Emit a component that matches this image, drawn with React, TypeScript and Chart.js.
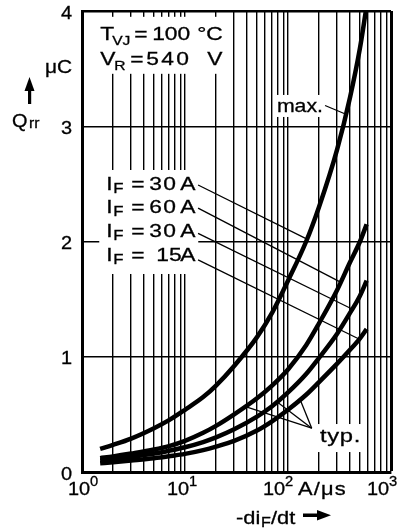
import React, { useEffect, useRef } from "react";
import { Chart, registerables } from "chart.js";
Chart.register(...registerables);

// ---- data ----
const DIDT_MAX = [1.5, 2, 3, 5, 7, 10, 15, 20, 30, 50, 70, 100, 150, 200, 300, 400, 500, 570];
const QRR_MAX = [0.2, 0.235, 0.29, 0.38, 0.45, 0.54, 0.65, 0.75, 0.92, 1.17, 1.38, 1.66, 2.0, 2.3, 2.8, 3.25, 3.68, 4.0];

const DIDT_TYP = [1.5, 2, 3, 5, 7, 10, 15, 20, 30, 50, 70, 100, 150, 200, 300, 400, 500, 580];
const QRR_IF60 = [0.12, 0.135, 0.16, 0.195, 0.225, 0.27, 0.34, 0.4, 0.5, 0.64, 0.75, 0.89, 1.1, 1.29, 1.58, 1.82, 2.0, 2.15];
const QRR_IF30 = [0.1, 0.11, 0.13, 0.16, 0.185, 0.215, 0.26, 0.3, 0.37, 0.48, 0.57, 0.69, 0.85, 0.99, 1.2, 1.38, 1.53, 1.66];
const QRR_IF15 = [0.075, 0.085, 0.1, 0.12, 0.137, 0.157, 0.19, 0.22, 0.27, 0.36, 0.44, 0.54, 0.67, 0.78, 0.94, 1.06, 1.16, 1.24];

// leader lines: [x0, y0, x1, y1] in data units
const LEADERS_IF = [
  [13.4, 2.49, 153, 2.02],
  [13.4, 2.29, 320, 1.65],
  [13.4, 2.07, 428, 1.41],
  [13.4, 1.84, 500, 1.15],
];
const LEADER_MAX = [229, 3.18, 375, 3.1];
const LEADERS_TYP = [
  [170, 0.38, 131, 0.63],
  [170, 0.38, 78, 0.61],
  [170, 0.38, 38, 0.57],
];

const X_GRID = [1, 2, 3, 4, 5, 6, 7, 8, 9, 10, 20, 30, 40, 50, 60, 70, 80, 90, 100, 200, 300, 400, 500, 600, 700, 800, 900, 1000];
const X_LABEL_VALUES = [1, 10, 100, 1000];
const X_LABEL_EXP = ["0", "1", "2", "3"];
const Y_GRID = [0, 1, 2, 3, 4];
const Y_LABELS = ["0", "1", "2", "3", "4"];

const IF_LABELS = ["30", "60", "30", "15"];

const FONT = "'Liberation Sans', Arial, Helvetica, sans-serif";

type Seg = { t: string; dx: number; dy?: number; size?: number; ls?: number };

function drawSegs(ctx: CanvasRenderingContext2D, x: number, y: number, segs: Seg[], hs = 1.2, base = 19) {
  for (const s of segs) {
    ctx.save();
    ctx.translate(x + s.dx, y + (s.dy || 0));
    ctx.scale(hs, 1);
    ctx.font = `${s.size || base}px ${FONT}`;
    (ctx as any).letterSpacing = `${s.ls || 0}px`;
    ctx.fillStyle = "#000";
    ctx.strokeStyle = "#000";
    ctx.lineWidth = 0.3;
    ctx.fillText(s.t, 0, 0);
    ctx.strokeText(s.t, 0, 0);
    ctx.restore();
  }
}

const textPlugin = {
  id: "textPlugin",
  beforeDraw(chart: any) {
    const ctx = chart.ctx;
    ctx.save();
    ctx.fillStyle = "#fff";
    ctx.fillRect(0, 0, chart.width, chart.height);
    ctx.restore();
  },
  beforeDatasetsDraw(chart: any) {
    const ctx: CanvasRenderingContext2D = chart.ctx;
    const sx = chart.scales.x;
    const sy = chart.scales.y;
    const P = (x: number, y: number) => [sx.getPixelForValue(x), sy.getPixelForValue(y)];
    ctx.save();
    ctx.textAlign = "left";
    ctx.textBaseline = "alphabetic";

    // conditions block
    const [tx, ty] = P(1.5, 3.75);
    ctx.fillStyle = "#fff";
    ctx.fillRect(tx - 4, ty - 23, 130, 57);
    drawSegs(ctx, tx, ty, [
      { t: "T", dx: 0 },
      { t: "VJ", dx: 12, dy: 5, size: 13 },
      { t: "=", dx: 34 },
      { t: "100", dx: 52 },
      { t: "°C", dx: 97 },
    ]);
    const [vx, vy] = P(1.5, 3.53);
    drawSegs(ctx, vx, vy, [
      { t: "V", dx: 0 },
      { t: "R", dx: 14, dy: 5, size: 13 },
      { t: "=", dx: 30 },
      { t: "540", dx: 46, ls: 2 },
      { t: "V", dx: 107 },
    ]);

    // IF labels
    const ifY = [2.447, 2.247, 2.039, 1.831];
    const [ix0, iy0] = P(1.72, ifY[0]);
    ctx.fillStyle = "#fff";
    ctx.fillRect(ix0 - 7, iy0 - 20, 99, 104);
    IF_LABELS.forEach((lab, i) => {
      const [ix, iy] = P(1.72, ifY[i]);
      const narrow = lab === "15";
      drawSegs(ctx, ix, iy, [
        { t: "I", dx: 0 },
        { t: "F", dx: 7, dy: 3, size: 14 },
        { t: "=", dx: 25 },
        { t: lab, dx: narrow ? 50 : 43, ls: narrow ? 0 : 1 },
        { t: "A", dx: 74 },
      ]);
    });

    // max.
    const [mx, my] = P(78, 3.124);
    ctx.fillStyle = "#fff";
    ctx.fillRect(mx - 3, my - 17, 53, 22);
    drawSegs(ctx, mx, my, [{ t: "max.", dx: 0 }], 1.12);

    // typ.
    const [px, py] = P(205, 0.26);
    ctx.fillStyle = "#fff";
    ctx.fillRect(px - 3, py - 18, 46, 28);
    drawSegs(ctx, px, py, [{ t: "typ.", dx: 0, ls: 0.5 }], 1.25);
    ctx.restore();
  },
  afterDraw(chart: any) {
    const ctx: CanvasRenderingContext2D = chart.ctx;
    const sx = chart.scales.x;
    const sy = chart.scales.y;
    const area = chart.chartArea;
    ctx.save();
    ctx.fillStyle = "#000";
    ctx.strokeStyle = "#000";
    ctx.textAlign = "left";
    ctx.textBaseline = "alphabetic";

    // y tick labels
    Y_GRID.forEach((v, i) => {
      const y = sy.getPixelForValue(v);
      drawSegs(ctx, area.left - 21, y + 7.5, [{ t: Y_LABELS[i], dx: 0 }], 1.05);
    });

    // x tick labels
    const shifts = [-14, -18, -25, -24];
    const baseY = area.bottom + 23;
    X_LABEL_VALUES.forEach((v, i) => {
      const p = sx.getPixelForValue(v) + shifts[i];
      drawSegs(ctx, p, baseY, [
        { t: "10", dx: 0 },
        { t: X_LABEL_EXP[i], dx: 22, dy: -9, size: 14 },
      ], 1.05);
    });
    const p2 = sx.getPixelForValue(100);
    drawSegs(ctx, p2 + 10, baseY, [{ t: "A/μs", dx: 0, ls: 1 }], 1.15);

    // x axis title
    const tY = area.bottom + 52;
    const tx = p2 - 52;
    drawSegs(ctx, tx, tY, [
      { t: "-di", dx: 0 },
      { t: "F", dx: 25, dy: 3, size: 14 },
      { t: "/dt", dx: 35 },
    ], 1.15);
    // arrow right
    const ay = tY - 9;
    ctx.fillRect(tx + 67, ay - 1.5, 16, 3.5);
    ctx.beginPath();
    ctx.moveTo(tx + 81, ay - 5);
    ctx.lineTo(tx + 95, ay + 0.2);
    ctx.lineTo(tx + 81, ay + 5.5);
    ctx.closePath();
    ctx.fill();

    // y axis title
    drawSegs(ctx, 45, 73, [{ t: "μC", dx: 0 }], 1.1);
    ctx.beginPath();
    ctx.moveTo(29.5, 77);
    ctx.lineTo(24.5, 91);
    ctx.lineTo(34.5, 91);
    ctx.closePath();
    ctx.fill();
    ctx.fillRect(28, 89, 3.2, 15);
    drawSegs(ctx, 12, 127, [
      { t: "Q", dx: 0 },
      { t: "rr", dx: 17, dy: 1, size: 15 },
    ], 1.05);
    ctx.restore();
  },
};

function line(d: number[]) {
  return {
    data: [
      { x: d[0], y: d[1] },
      { x: d[2], y: d[3] },
    ],
    borderColor: "#000",
    borderWidth: 1.3,
    pointRadius: 0,
    tension: 0,
    fill: false,
  };
}

function curve(xs: number[], ys: number[]) {
  return {
    data: xs.map((x, i) => ({ x, y: ys[i] })),
    borderColor: "#000",
    borderWidth: 4.5,
    pointRadius: 0,
    cubicInterpolationMode: "monotone" as const,
    fill: false,
  };
}

export default function App() {
  const ref = useRef<HTMLCanvasElement>(null);
  useEffect(() => {
    const chart = new Chart(ref.current as HTMLCanvasElement, {
      type: "line",
      data: {
        datasets: [
          curve(DIDT_MAX, QRR_MAX),
          curve(DIDT_TYP, QRR_IF60),
          curve(DIDT_TYP, QRR_IF30),
          curve(DIDT_TYP, QRR_IF15),
          ...LEADERS_IF.map(line),
          line(LEADER_MAX),
          ...LEADERS_TYP.map(line),
        ] as any,
      },
      options: {
        responsive: false,
        animation: false,
        events: [],
        layout: { padding: { left: 82, right: 14, top: 11, bottom: 57 } },
        plugins: { legend: { display: false }, tooltip: { enabled: false } },
        scales: {
          x: {
            type: "logarithmic",
            min: 1,
            max: 1000,
            afterBuildTicks: (s: any) => {
              s.ticks = X_GRID.map((v) => ({ value: v }));
            },
            afterFit: (s: any) => {
              s.height = 0;
            },
            ticks: { display: false },
            grid: {
              color: "#000",
              lineWidth: (c: any) => (c.tick && c.tick.value === 1000 ? 3 : 1.4),
              drawTicks: false,
            },
            border: { display: true, color: "#000", width: 3 },
          },
          y: {
            type: "linear",
            min: 0,
            max: 4,
            afterBuildTicks: (s: any) => {
              s.ticks = Y_GRID.map((v) => ({ value: v }));
            },
            afterFit: (s: any) => {
              s.width = 0;
            },
            ticks: { display: false },
            grid: {
              color: "#000",
              lineWidth: (c: any) => (c.tick && c.tick.value === 4 ? 2.5 : 1.4),
              drawTicks: false,
            },
            border: { display: true, color: "#000", width: 3 },
          },
        },
      } as any,
      plugins: [textPlugin],
    });
    return () => chart.destroy();
  }, []);
  return (
    <div style={{ position: "absolute", left: 0, top: 0, width: 405, height: 529, background: "#fff" }}>
      <canvas ref={ref} width={405} height={529} style={{ display: "block", width: 405, height: 529 }} />
    </div>
  );
}
